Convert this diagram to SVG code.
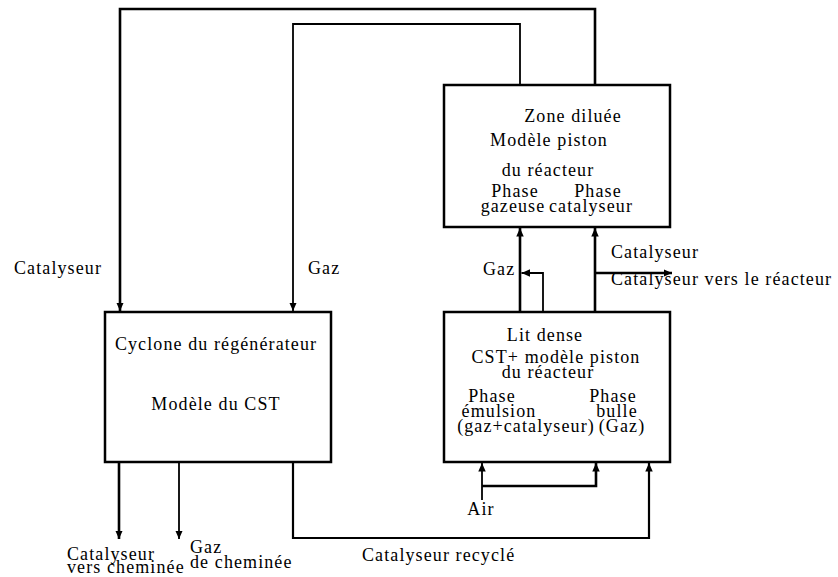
<svg xmlns="http://www.w3.org/2000/svg" width="838" height="577" viewBox="0 0 838 577" font-family="'Liberation Serif', 'DejaVu Serif', serif">
<style>
  text { font-family: "Liberation Serif", "DejaVu Serif", serif; font-size: 18px; letter-spacing: 1.1px; fill: #000; }
  .c { text-anchor: middle; }
  .box { fill: #fff; stroke: #000; stroke-width: 2.5; }
  .thick { fill: none; stroke: #000; stroke-width: 2.6; }
  .thin { fill: none; stroke: #000; stroke-width: 1.8; }
</style>
<defs>
  <marker id="ah" markerUnits="userSpaceOnUse" markerWidth="9" markerHeight="8" refX="8.5" refY="3.75" orient="auto">
    <path d="M0,0 L8.5,3.75 L0,7.5 Z" fill="#000"/>
  </marker>
</defs>
<rect width="838" height="577" fill="#fff"/>
<g id="connectors">
  <path class="thick" d="M595,85 V9 H120 V311" marker-end="url(#ah)"/>
  <path class="thin" d="M520,85 V24 H293 V311" marker-end="url(#ah)"/>
  <path class="thick" d="M520,312 V228" marker-end="url(#ah)"/>
  <path class="thin" d="M543,312 V273 H521.5" marker-end="url(#ah)"/>
  <path class="thick" d="M595,312 V228" marker-end="url(#ah)"/>
  <path class="thick" d="M595,273 H672" marker-end="url(#ah)"/>
  <path class="thick" d="M119,462 V539" marker-end="url(#ah)"/>
  <path class="thin" d="M179,462 V539" marker-end="url(#ah)"/>
  <path class="thin" style="stroke-width:2.2" d="M293,462 V538 H649 V463" marker-end="url(#ah)"/>
  <path class="thin" d="M482,500 V463" marker-end="url(#ah)"/>
  <path class="thick" d="M482,486 H596 V463" marker-end="url(#ah)"/>
</g>
<g id="cyclone">
  <rect class="box" x="105" y="312" width="226" height="150"/>
  <text class="c" x="216" y="350">Cyclone du régénérateur</text>
  <text class="c" x="216" y="410">Modèle du CST</text>
</g>
<g id="zone-diluee">
  <rect class="box" x="444" y="85" width="226" height="142"/>
  <text class="c" x="573" y="122">Zone diluée</text>
  <text class="c" x="549" y="146">Modèle piston</text>
  <text class="c" x="548" y="176">du réacteur</text>
  <text class="c" x="515" y="197">Phase</text>
  <text class="c" x="598" y="197">Phase</text>
  <text class="c" x="513" y="212">gazeuse</text>
  <text class="c" x="591" y="212">catalyseur</text>
</g>
<g id="lit-dense">
  <rect class="box" x="444" y="312" width="226" height="150"/>
  <text class="c" x="545" y="341">Lit dense</text>
  <text class="c" x="556" y="363">CST+ modèle piston</text>
  <text class="c" x="548" y="378">du réacteur</text>
  <text class="c" x="492" y="402">Phase</text>
  <text class="c" x="613" y="402">Phase</text>
  <text class="c" x="499" y="417">émulsion</text>
  <text class="c" x="617" y="417">bulle</text>
  <text class="c" x="526" y="432">(gaz+catalyseur)</text>
  <text class="c" x="622" y="432">(Gaz)</text>
</g>
<g id="labels">
  <text x="14" y="274">Catalyseur</text>
  <text x="308" y="274">Gaz</text>
  <text x="483" y="275">Gaz</text>
  <text x="611" y="258">Catalyseur</text>
  <text x="611" y="285">Catalyseur vers le réacteur</text>
  <text class="c" x="481" y="515">Air</text>
  <text x="362" y="561">Catalyseur recyclé</text>
  <text x="67" y="560">Catalyseur</text>
  <text x="67" y="573">vers cheminée</text>
  <text x="190" y="553">Gaz</text>
  <text x="190" y="568">de cheminée</text>
</g>
</svg>
